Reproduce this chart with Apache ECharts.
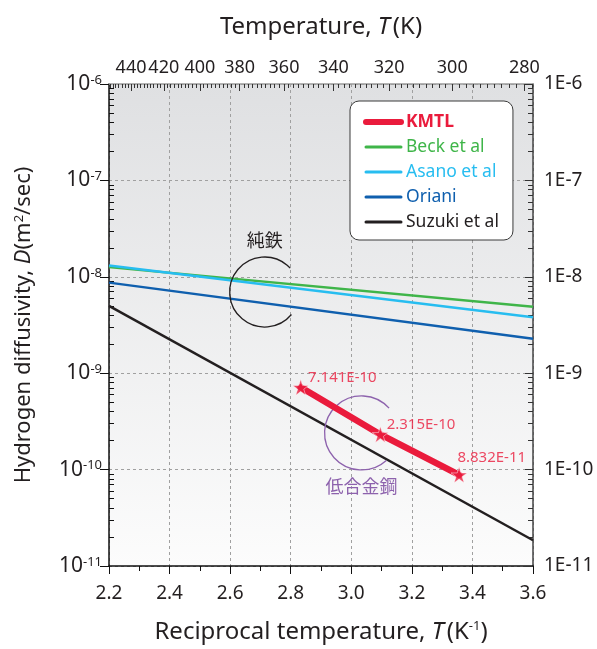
<!DOCTYPE html>
<html><head><meta charset="utf-8">
<script src="https://cdn.jsdelivr.net/npm/echarts@6/dist/echarts.min.js"></script>
<style>html,body{margin:0;padding:0;background:#fff}#c{width:597px;height:649px}</style>
</head><body><div id="c"></div>
<script>
// ---- data ----
const xMin = 2.2, xMax = 3.6;
const yMin = 1e-11, yMax = 1e-6;
const seriesNames = ['KMTL', 'Beck et al', 'Asano et al', 'Oriani', 'Suzuki et al'];
const kmtlX = [2.833, 3.096, 3.356];
const kmtlD = [7.141e-10, 2.315e-10, 8.832e-11];
const kmtlLabels = ['7.141E-10', '2.315E-10', '8.832E-11'];
const refX = [2.2, 3.6];
const beckD = [1.26e-8, 4.9e-9];
const asanoD = [1.31e-8, 3.8e-9];
const orianiD = [8.7e-9, 2.28e-9];
const suzukiD = [5.0e-9, 1.85e-11];
const topTempLabels = [440, 420, 400, 380, 360, 340, 320, 300, 280];
const annotText = ['純鉄', '低合金鋼'];
const annotCenterX = [2.714, 3.034];
const annotCenterD = [6.95e-9, 2.4e-10];
const annotTextX = [2.714, 3.034];
const annotTextD = [2.41e-8, 6.7e-11];

// ---- styles ----
const colors = ['#ea1b3c', '#3fb549', '#27bdf0', '#0f5fae', '#231f20'];
const lineWidths = [6.5, 2.5, 2.5, 2.5, 2.5];
const legendWidths = [6, 3, 3, 3, 3];
const annotColors = ['#231f20', '#8d62ad'];
const annotArc = [[40, 317], [48, 318]];
const annotR = [35, 37];
const labelOffsets = [[-6, -10], [-7, -10], [-15, -17]];
const FONT = 'Noto Sans';
const TXT = '#231f20';

const minorLog = [];
for (let n = -11; n < -6; n++) for (let k = 2; k <= 9; k++) minorLog.push(n + Math.log10(k));
const topMinor = [];
for (let t = 278; t <= 454; t += 2) topMinor.push(1000 / t);

const starPath = 'path://M50,0 L61.2,35 L97.6,35 L68.2,56.6 L79.4,91.2 L50,69.8 L20.6,91.2 L31.8,56.6 L2.4,35 L38.8,35 Z';

const chart = echarts.init(document.getElementById('c'));
const pair = (xs, ys) => xs.map((x, i) => [x, ys[i]]);
const seriesData = { 'Beck et al': beckD, 'Asano et al': asanoD, 'Oriani': orianiD, 'Suzuki et al': suzukiD };

const option = {
  animation: false,
  grid: {
    left: 109, right: 64, top: 84, bottom: 83, show: true, borderWidth: 0,
    backgroundColor: new echarts.graphic.LinearGradient(0, 0, 0, 1, [
      { offset: 0, color: '#dfe0e2' }, { offset: 1, color: '#fcfcfc' }])
  },
  legend: {
    orient: 'vertical', left: 350, top: 101, selectedMode: false,
    backgroundColor: '#fff', borderColor: '#3a3a3a', borderWidth: 1, borderRadius: 9,
    padding: [12, 14, 9, 13], itemWidth: 35, itemHeight: 12, itemGap: 7,
    itemStyle: { opacity: 0 },
    textStyle: { fontFamily: FONT, fontSize: 17.5 },
    data: seriesNames.map((n, i) => ({
      name: n,
      lineStyle: { width: legendWidths[i], cap: 'round', color: colors[i] },
      textStyle: { color: colors[i], fontWeight: i === 0 ? 'bold' : 'normal', fontFamily: FONT, fontSize: 17.5 } }))
  },
  xAxis: [
    {
      type: 'value', min: xMin, max: xMax, interval: 0.2, position: 'bottom',
      axisLine: { lineStyle: { color: '#111', width: 1.5 } },
      axisTick: { length: 8, lineStyle: { color: '#111' } },
      minorTick: { show: true, splitNumber: 2, length: 5, lineStyle: { color: '#111' } },
      splitLine: { show: true, lineStyle: { color: '#a0a0a0', type: [3, 3], width: 1 } },
      axisLabel: { fontFamily: FONT, fontSize: 19, color: TXT, margin: 18, formatter: v => v.toFixed(1) },
      name: '{n|Reciprocal temperature, }{i|T}{n|(K}{s|-1}{n|)}', nameLocation: 'middle', nameGap: 54,
      nameTextStyle: { rich: {
        n: { fontFamily: FONT, fontSize: 24, color: TXT },
        i: { fontFamily: FONT, fontSize: 24, color: TXT, fontStyle: 'italic', padding: [0, 3, 0, 0] },
        s: { fontFamily: FONT, fontSize: 13, color: TXT, verticalAlign: 'top' } } }
    },
    {
      type: 'value', min: xMin, max: xMax, position: 'top',
      axisLine: { lineStyle: { color: '#9a9a9a', width: 1.5 } },
      axisTick: { inside: true, length: 7, customValues: topTempLabels.map(t => 1000 / t), lineStyle: { color: '#333' } },
      axisLabel: { customValues: topTempLabels.map(t => 1000 / t), fontFamily: FONT, fontSize: 18, color: TXT, margin: 7,
        formatter: v => String(Math.round(1000 / v)) },
      splitLine: { show: false },
      name: '{n|Temperature, }{i|T}{n|(K)}', nameLocation: 'middle', nameGap: 45,
      nameTextStyle: { rich: {
        n: { fontFamily: FONT, fontSize: 24, color: TXT },
        i: { fontFamily: FONT, fontSize: 24, color: TXT, fontStyle: 'italic', padding: [0, 3, 0, 0] } } }
    },
    {
      type: 'value', min: xMin, max: xMax, position: 'top',
      axisLine: { show: false },
      axisTick: { inside: true, length: 4, customValues: topMinor, lineStyle: { color: '#333' } },
      axisLabel: { show: false }, splitLine: { show: false }
    }
  ],
  yAxis: [
    {
      type: 'log', logBase: 10, min: yMin, max: yMax, position: 'left',
      axisLine: { lineStyle: { color: '#111', width: 1.5 } },
      axisTick: { length: 9, lineStyle: { color: '#111' } },
      splitLine: { show: true, lineStyle: { color: '#a0a0a0', type: [3, 3], width: 1 } },
      axisLabel: { margin: 7, formatter: v => '{b|10}{s|' + Math.round(Math.log10(v)) + '}',
        rich: { b: { fontFamily: FONT, fontSize: 21, color: TXT },
                s: { fontFamily: FONT, fontSize: 13, color: TXT, verticalAlign: 'top' } } },
      name: '{n|Hydrogen diffusivity, }{i|D}{n|(m}{s|2}{n|/sec)}', nameLocation: 'middle', nameGap: 74,
      nameTextStyle: { rich: {
        n: { fontFamily: FONT, fontSize: 22, color: TXT },
        i: { fontFamily: FONT, fontSize: 22, color: TXT, fontStyle: 'italic' },
        s: { fontFamily: FONT, fontSize: 13, color: TXT, verticalAlign: 'top' } } }
    },
    {
      type: 'value', min: -11, max: -6, position: 'left',
      axisLine: { show: false },
      axisTick: { inside: true, length: 5, customValues: minorLog, lineStyle: { color: '#111' } },
      axisLabel: { show: false }, splitLine: { show: false }
    },
    {
      type: 'log', logBase: 10, min: yMin, max: yMax, position: 'right',
      axisLine: { lineStyle: { color: '#444', width: 1.5 } },
      axisTick: { inside: true, length: 8, lineStyle: { color: '#333' } },
      splitLine: { show: false },
      axisLabel: { margin: 11, fontFamily: FONT, fontSize: 19, color: TXT,
        formatter: v => '1E' + Math.round(Math.log10(v)) }
    },
    {
      type: 'value', min: -11, max: -6, position: 'right',
      axisLine: { show: false },
      axisTick: { inside: true, length: 5, customValues: minorLog, lineStyle: { color: '#333' } },
      axisLabel: { show: false }, splitLine: { show: false }
    }
  ],
  series: [
    ...seriesNames.slice(1).map((n, j) => ({
      name: n, type: 'line', symbol: 'none', data: pair(refX, seriesData[n]),
      lineStyle: { color: colors[j + 1], width: lineWidths[j + 1] }, itemStyle: { color: colors[j + 1] },
      z: n === 'Asano et al' ? 4 : 3 })),
    { name: 'KMTL', type: 'line', symbol: 'none', data: pair(kmtlX, kmtlD), lineStyle: { color: colors[0], width: lineWidths[0], cap: 'round' }, itemStyle: { color: colors[0] }, z: 6 },
    {
      name: 'KMTL points', type: 'scatter', symbol: starPath, symbolSize: 16, z: 7,
      itemStyle: { color: colors[0], borderColor: '#fff', borderWidth: 0.6 },
      data: kmtlX.map((x, i) => ({ value: [x, kmtlD[i]],
        label: { show: true, position: 'right', offset: labelOffsets[i], formatter: kmtlLabels[i],
          color: colors[0], fontFamily: FONT, fontSize: 15 } }))
    },
    {
      name: 'annotations', type: 'custom', z: 5, silent: true,
      data: annotText.map((t, i) => [annotCenterX[i], annotCenterD[i]]),
      encode: { x: 0, y: 1 },
      renderItem: (params, api) => {
        const i = params.dataIndex;
        const c = api.coord([annotCenterX[i], annotCenterD[i]]);
        const t = api.coord([annotTextX[i], annotTextD[i]]);
        return { type: 'group', children: [
          { type: 'arc', shape: { cx: c[0], cy: c[1], r: annotR[i], startAngle: annotArc[i][0] * Math.PI / 180, endAngle: annotArc[i][1] * Math.PI / 180, clockwise: true },
            style: { stroke: annotColors[i], lineWidth: 1.3, fill: null } },
          { type: 'text', x: t[0], y: t[1], style: { text: annotText[i], fill: annotColors[i], fontFamily: 'Noto Sans CJK JP', fontSize: 18, align: 'center', verticalAlign: 'middle' } }
        ] };
      }
    }
  ]
};
chart.setOption(option);
</script></body></html>
